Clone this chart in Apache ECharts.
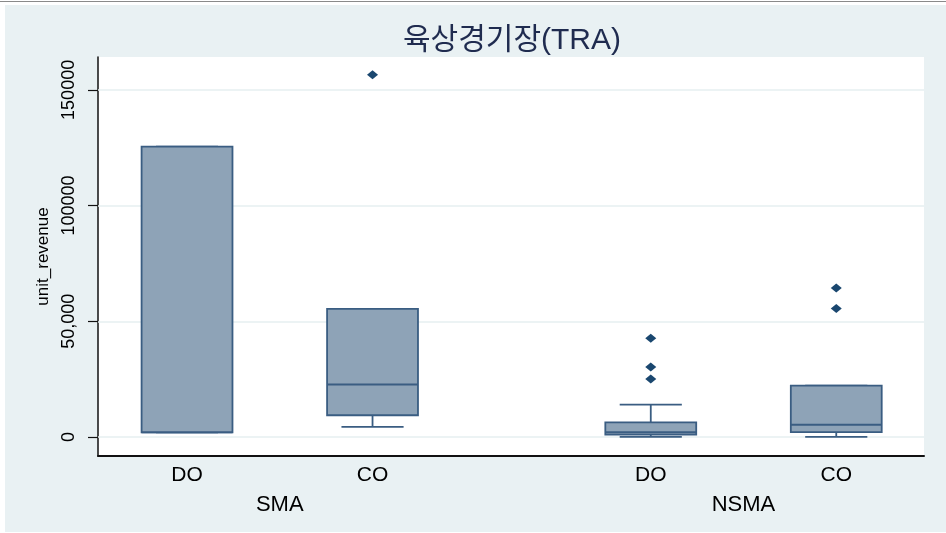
<!DOCTYPE html>
<html>
<head>
<meta charset="utf-8">
<script src="https://cdn.jsdelivr.net/npm/echarts@6/dist/echarts.min.js"></script>
<style>
  html, body { margin: 0; padding: 0; background: #ffffff; }
  #chart { width: 946px; height: 533px; }
</style>
</head>
<body>
<div id="chart"></div>
<script>
// Box plot of unit revenue by operator type, split into SMA / NSMA groups
const titleText = '육상경기장(TRA)';
const yAxisName = 'unit_revenue';

const groups = ['SMA', 'NSMA'];
const groupCenters = [1.5, 4];
const categories = ['DO', 'CO', 'DO', 'CO'];
const positions = [1, 2, 3.5, 4.5];

// five-number summaries (lower whisker, Q1, median, Q3, upper whisker)
const whiskerLow  = [2000,   4400,  100,   100];
const q1          = [2000,   9400,  1100,  2100];
const median      = [2000,   22700, 2100,  5300];
const q3          = [125500, 55400, 6300,  22200];
const whiskerHigh = [125500, 55400, 14000, 22200];

// points beyond the whiskers, one list per box
const outliers = [[], [156500], [42700, 30300, 25100], [64400, 55500]];

const yTicks = [0, 50000, 100000, 150000];
const yTickLabels = ['0', '50,000', '100000', '150000'];

const FONT = '"Liberation Sans", Arial, sans-serif';
const FILL = '#8ea3b7';
const EDGE = '#3a5d82';
const DOT = '#1a476f';
const BOX_W = 0.49;   // box width in x units
const CAP_W = 0.335;  // whisker cap width in x units
const X_MIN = 0.52, X_MAX = 4.973;
const Y_MIN = -8200, Y_MAX = 164200;

const boxData = positions.map((p, i) => [p, whiskerLow[i], q1[i], median[i], q3[i], whiskerHigh[i]]);
const outlierData = [];
outliers.forEach((list, i) => list.forEach(v => outlierData.push([positions[i], v])));

function seg(x1, y1, x2, y2) {
  return { type: 'line', shape: { x1, y1, x2, y2 }, style: { stroke: EDGE, lineWidth: 1.8 } };
}

function renderBox(params, api) {
  const x = api.value(0);
  const lo = api.coord([x, api.value(1)]);
  const b1 = api.coord([x, api.value(2)]);
  const md = api.coord([x, api.value(3)]);
  const b3 = api.coord([x, api.value(4)]);
  const hi = api.coord([x, api.value(5)]);
  const hb = api.size([BOX_W, 0])[0] / 2;
  const hc = api.size([CAP_W, 0])[0] / 2;
  const cx = lo[0];
  return {
    type: 'group',
    children: [
      seg(cx, hi[1], cx, b3[1]),
      seg(cx - hc, hi[1], cx + hc, hi[1]),
      seg(cx, lo[1], cx, b1[1]),
      seg(cx - hc, lo[1], cx + hc, lo[1]),
      { type: 'rect', shape: { x: cx - hb, y: b3[1], width: 2 * hb, height: b1[1] - b3[1] },
        style: { fill: FILL, stroke: EDGE, lineWidth: 1.8 } },
      seg(cx - hb, md[1], cx + hb, md[1])
    ]
  };
}

const chart = echarts.init(document.getElementById('chart'), null, { renderer: 'canvas' });

const gridBox = { left: 98, top: 57, right: 22, bottom: 77 };

chart.setOption({
  backgroundColor: '#e9f1f3',
  animation: false,
  textStyle: { fontFamily: FONT },
  graphic: [
    // white margin strips and the thin rule along the top edge
    { type: 'rect', shape: { x: 0, y: 0, width: 946, height: 5 }, style: { fill: '#ffffff' }, silent: true },
    { type: 'rect', shape: { x: 0, y: 0, width: 5, height: 533 }, style: { fill: '#ffffff' }, silent: true },
    { type: 'rect', shape: { x: 0, y: 532, width: 946, height: 1 }, style: { fill: '#ffffff' }, silent: true },
    { type: 'line', shape: { x1: 0, y1: 1.5, x2: 946, y2: 1.5 }, style: { stroke: '#8a8a8a', lineWidth: 1.2 }, silent: true },
    { type: 'text', x: 512, y: 41, silent: true,
      style: { text: titleText, fill: '#1f2b4f', font: '30px "Liberation Sans", "Noto Sans CJK KR", sans-serif',
               textAlign: 'center', textVerticalAlign: 'middle' } }
  ],
  grid: [
    Object.assign({ show: true, backgroundColor: '#ffffff', borderWidth: 0 }, gridBox),
    Object.assign({ show: false }, gridBox)
  ],
  xAxis: [
    {
      type: 'value', gridIndex: 0, min: X_MIN, max: X_MAX,
      axisLine: { show: true, onZero: false, lineStyle: { color: '#111111', width: 2 } },
      axisTick: { show: false },
      splitLine: { show: false },
      axisLabel: {
        customValues: positions,
        formatter: v => categories[positions.indexOf(v)],
        margin: 9, fontSize: 21, color: '#000000', fontFamily: FONT
      }
    },
    {
      type: 'value', gridIndex: 1, min: X_MIN, max: X_MAX,
      axisLine: { show: false }, axisTick: { show: false }, splitLine: { show: false },
      axisLabel: {
        customValues: groupCenters,
        formatter: v => groups[groupCenters.indexOf(v)],
        margin: 38, fontSize: 22, color: '#000000', fontFamily: FONT
      }
    }
  ],
  yAxis: [
    {
      type: 'value', gridIndex: 0, min: Y_MIN, max: Y_MAX,
      name: yAxisName, nameLocation: 'middle', nameGap: 44,
      nameTextStyle: { fontSize: 17, color: '#000000', fontFamily: FONT },
      axisLine: { show: true, onZero: false, lineStyle: { color: '#111111', width: 1.5 } },
      axisTick: { show: true, customValues: yTicks, length: 10, lineStyle: { color: '#111111', width: 1.2 } },
      axisLabel: {
        customValues: yTicks, rotate: 90,
        formatter: v => yTickLabels[yTicks.indexOf(v)],
        margin: 20, fontSize: 18, color: '#000000', fontFamily: FONT
      },
      splitLine: { show: false }
    },
    { type: 'value', gridIndex: 1, min: Y_MIN, max: Y_MAX, show: false }
  ],
  series: [
    {
      // horizontal grid lines at the labelled ticks, kept behind the boxes
      type: 'line', xAxisIndex: 0, yAxisIndex: 0, data: [], z: 1, silent: true,
      markLine: {
        z: 1, silent: true, symbol: 'none', label: { show: false },
        lineStyle: { color: '#e6eff1', width: 1.5, type: 'solid' },
        data: yTicks.map(v => ({ yAxis: v }))
      }
    },
    {
      type: 'custom', xAxisIndex: 0, yAxisIndex: 0, z: 3,
      renderItem: renderBox,
      encode: { x: 0, y: [1, 2, 3, 4, 5] },
      data: boxData
    },
    {
      type: 'scatter', xAxisIndex: 0, yAxisIndex: 0, z: 4,
      symbol: 'diamond', symbolSize: [11, 9],
      itemStyle: { color: DOT, opacity: 1 },
      data: outlierData
    }
  ]
});
</script>
</body>
</html>
